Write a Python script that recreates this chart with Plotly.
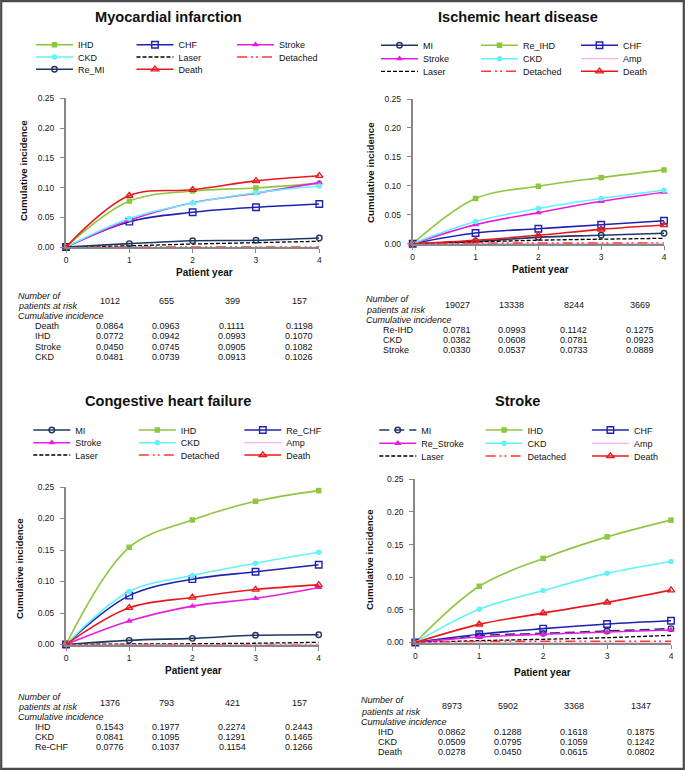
import plotly.graph_objects as go

W, H = 685, 770
FONT = "Liberation Sans, Arial, sans-serif"

years = [0, 1, 2, 3, 4]
year_ticks = ["0", "1", "2", "3", "4"]

# ---------------- Myocardial infarction ----------------
mi_names = ["IHD", "CHF", "Stroke", "CKD", "Laser", "Detached", "Re_MI", "Death"]
mi_IHD = [0, 0.0772, 0.0942, 0.0993, 0.1070]
mi_CHF = [0, 0.0426, 0.0584, 0.0668, 0.0724]
mi_Stroke = [0, 0.0450, 0.0745, 0.0905, 0.1082]
mi_CKD = [0, 0.0481, 0.0739, 0.0913, 0.1026]
mi_Laser = [0, 0.0020, 0.0050, 0.0073, 0.0096]
mi_Detached = [0, 0, 0, 0, 0]
mi_Re_MI = [0, 0.0056, 0.0106, 0.0113, 0.0152]
mi_Death = [0, 0.0864, 0.0963, 0.1111, 0.1198]
mi_at_risk = [1012, 655, 399, 157]
mi_table_labels = ["Death", "IHD", "Stroke", "CKD"]
mi_table_series = ["Death", "IHD", "Stroke", "CKD"]

# ---------------- Ischemic heart disease ----------------
ihd_names = ["MI", "Re_IHD", "CHF", "Stroke", "CKD", "Amp", "Laser", "Detached", "Death"]
ihd_MI = [0, 0.0040, 0.0110, 0.0145, 0.0180]
ihd_Re_IHD = [0, 0.0781, 0.0993, 0.1142, 0.1275]
ihd_CHF = [0, 0.0184, 0.0259, 0.0328, 0.0397]
ihd_Stroke = [0, 0.0330, 0.0537, 0.0733, 0.0889]
ihd_CKD = [0, 0.0382, 0.0608, 0.0781, 0.0923]
ihd_Amp = [0, 0.0002, 0.0003, 0.0004, 0.0005]
ihd_Laser = [0, 0.0030, 0.0060, 0.0078, 0.0093]
ihd_Detached = [0, 0.0008, 0.0010, 0.0010, 0.0012]
ihd_Death = [0, 0.0059, 0.0145, 0.0248, 0.0322]
ihd_at_risk = [19027, 13338, 8244, 3669]
ihd_table_labels = ["Re-IHD", "CKD", "Stroke"]
ihd_table_series = ["Re_IHD", "CKD", "Stroke"]

# ---------------- Congestive heart failure ----------------
chf_names = ["MI", "IHD", "Re_CHF", "Stroke", "CKD", "Amp", "Laser", "Detached", "Death"]
chf_MI = [0, 0.0066, 0.0098, 0.0146, 0.0155]
chf_IHD = [0, 0.1543, 0.1977, 0.2274, 0.2443]
chf_Re_CHF = [0, 0.0776, 0.1037, 0.1154, 0.1266]
chf_Stroke = [0, 0.0372, 0.0609, 0.0731, 0.0905]
chf_CKD = [0, 0.0841, 0.1095, 0.1291, 0.1465]
chf_Amp = [0, 0, 0, 0, 0]
chf_Laser = [0, 0.0008, 0.0012, 0.0020, 0.0035]
chf_Detached = [0, 0, 0, 0, 0]
chf_Death = [0, 0.0582, 0.0747, 0.0873, 0.0946]
chf_at_risk = [1376, 793, 421, 157]
chf_table_labels = ["IHD", "CKD", "Re-CHF"]
chf_table_series = ["IHD", "CKD", "Re_CHF"]

# ---------------- Stroke ----------------
st_names = ["MI", "IHD", "CHF", "Re_Stroke", "CKD", "Amp", "Laser", "Detached", "Death"]
st_MI = [0, 0.0104, 0.0140, 0.0176, 0.0212]
st_IHD = [0, 0.0862, 0.1288, 0.1618, 0.1875]
st_CHF = [0, 0.0126, 0.0212, 0.0284, 0.0334]
st_Re_Stroke = [0, 0.0084, 0.0126, 0.0160, 0.0192]
st_CKD = [0, 0.0509, 0.0795, 0.1059, 0.1242]
st_Amp = [0, 0, 0, 0, 0]
st_Laser = [0, 0.0028, 0.0049, 0.0074, 0.0110]
st_Detached = [0, 0.0015, 0.0018, 0.0018, 0.0018]
st_Death = [0, 0.0278, 0.0450, 0.0615, 0.0802]
st_at_risk = [8973, 5902, 3368, 1347]
st_table_labels = ["IHD", "CKD", "Death"]
st_table_series = ["IHD", "CKD", "Death"]

series_mi = {"IHD": mi_IHD, "CHF": mi_CHF, "Stroke": mi_Stroke, "CKD": mi_CKD,
             "Laser": mi_Laser, "Detached": mi_Detached, "Re_MI": mi_Re_MI, "Death": mi_Death}
series_ihd = {"MI": ihd_MI, "Re_IHD": ihd_Re_IHD, "CHF": ihd_CHF, "Stroke": ihd_Stroke,
              "CKD": ihd_CKD, "Amp": ihd_Amp, "Laser": ihd_Laser, "Detached": ihd_Detached,
              "Death": ihd_Death}
series_chf = {"MI": chf_MI, "IHD": chf_IHD, "Re_CHF": chf_Re_CHF, "Stroke": chf_Stroke,
              "CKD": chf_CKD, "Amp": chf_Amp, "Laser": chf_Laser, "Detached": chf_Detached,
              "Death": chf_Death}
series_st = {"MI": st_MI, "IHD": st_IHD, "CHF": st_CHF, "Re_Stroke": st_Re_Stroke,
             "CKD": st_CKD, "Amp": st_Amp, "Laser": st_Laser, "Detached": st_Detached,
             "Death": st_Death}

# ---------------- styles ----------------
GREEN = "#8DC63F"
BLUE = "#1E22B0"
MAGENTA = "#E81DE0"
CYAN = "#62F2F7"
NAVY = "#1F3864"
RED = "#E8191E"
DRED = "#FF3A2E"
PINK = "#FF9CF5"

STYLE = {
    "IHD": dict(color=GREEN, symbol="square", size=5.5, lw=1.6, dash="solid", mline=0),
    "CHF": dict(color=BLUE, symbol="square-open", size=6.5, lw=1.6, dash="solid", mline=1.4),
    "Stroke": dict(color=MAGENTA, symbol="triangle-up", size=6.5, lw=1.6, dash="solid", mline=0),
    "CKD": dict(color=CYAN, symbol="circle", size=5.5, lw=1.6, dash="solid", mline=0),
    "MI": dict(color=NAVY, symbol="circle-open", size=5.5, lw=1.6, dash="solid", mline=1.4),
    "Death": dict(color=RED, symbol="triangle-up-open", size=6.5, lw=1.6, dash="solid", mline=1.3),
    "Laser": dict(color="#000000", symbol=None, size=0, lw=1.3, dash="4px,2px", mline=0),
    "Detached": dict(color=DRED, symbol=None, size=0, lw=1.6, dash="10px,4px,2px,3px,2px,4px", mline=0),
    "Amp": dict(color=PINK, symbol=None, size=0, lw=1.0, dash="solid", mline=0),
}

panels = [
    dict(title="Myocardial infarction", names=mi_names, series=series_mi,
         at_risk=mi_at_risk, tlabels=mi_table_labels, tseries=mi_table_series,
         title_xy=(168, 16.7), leg_x=31, leg_ew=48.5, leg_rows=[44.7, 57, 69.3],
         x0=66, x4=319.3, y0=247, y25=98.3, ytitle=(23, 171), xtitle=(204.5, 272.7),
         t_left=16, t_label=33.3, t_cols=[110, 166, 232.3, 299.2], t_num=295.7, t_pat=306,
         t_risk=300.7, t_cum=316, t_rows=[326.3, 336.3, 346.7, 356.7], mi_dash=False),
    dict(title="Ischemic heart disease", names=ihd_names, series=series_ihd,
         at_risk=ihd_at_risk, tlabels=ihd_table_labels, tseries=ihd_table_series,
         title_xy=(517.7, 17.3), leg_x=376, leg_ew=48, leg_rows=[45.3, 58.7, 71.3],
         x0=412.7, x4=664, y0=243.7, y25=99, ytitle=(370, 173), xtitle=(540, 269.3),
         t_left=363.7, t_label=381, t_cols=[457.3, 512, 573.5, 639.5], t_num=299.3, t_pat=310,
         t_risk=305.3, t_cum=320.3, t_rows=[330, 340, 350], mi_dash=False),
    dict(title="Congestive heart failure", names=chf_names, series=series_chf,
         at_risk=chf_at_risk, tlabels=chf_table_labels, tseries=chf_table_series,
         title_xy=(168, 401.3), leg_x=28.3, leg_ew=53.5, leg_rows=[430, 442.7, 455],
         x0=66, x4=318.7, y0=644.5, y25=487, ytitle=(19, 569), xtitle=(193.3, 670.3),
         t_left=16, t_label=33.3, t_cols=[110, 166, 232.3, 299.2], t_num=697.3, t_pat=707.3,
         t_risk=702.7, t_cum=717, t_rows=[727, 737.3, 747.3], mi_dash=False),
    dict(title="Stroke", names=st_names, series=series_st,
         at_risk=st_at_risk, tlabels=st_table_labels, tseries=st_table_series,
         title_xy=(517.7, 401.3), leg_x=374.3, leg_ew=54.3, leg_rows=[430, 443.3, 456],
         x0=415.3, x4=671, y0=642.5, y25=479.3, ytitle=(369, 560), xtitle=(542, 672),
         t_left=358.7, t_label=376, t_cols=[452, 508, 574.3, 641.2], t_num=700.3, t_pat=711.7,
         t_risk=706.3, t_cum=721.7, t_rows=[731.7, 741.7, 751.7], mi_dash=True),
]

fig = go.Figure()
layout = dict(width=W, height=H, margin=dict(l=0, r=0, t=0, b=0, autoexpand=False),
              paper_bgcolor="white", plot_bgcolor="white",
              font=dict(family=FONT, color="#111111"), annotations=[], shapes=[])


def px_x(x):
    return x / W


def px_y(y):
    return 1 - y / H


def ann(text, x, y, size=9, xanchor="left", weight="normal", style="normal", angle=0):
    return dict(text=text, x=px_x(x), y=px_y(y), xref="paper", yref="paper",
                xanchor=xanchor, yanchor="middle", showarrow=False, textangle=angle,
                font=dict(family=FONT, size=size, color="#111111", weight=weight, style=style))


legend_count = 0
for pi, p in enumerate(panels):
    n = pi + 1
    xa = "x" if n == 1 else f"x{n}"
    ya = "y" if n == 1 else f"y{n}"
    xkey = "xaxis" if n == 1 else f"xaxis{n}"
    ykey = "yaxis" if n == 1 else f"yaxis{n}"

    # legends: one legend per row of three entries
    row_legends = []
    for r, ry in enumerate(p["leg_rows"]):
        legend_count += 1
        lkey = "legend" if legend_count == 1 else f"legend{legend_count}"
        row_legends.append(lkey)
        layout[lkey] = dict(x=px_x(p["leg_x"]), y=px_y(ry), xanchor="left", yanchor="middle",
                            orientation="h", entrywidth=p["leg_ew"], entrywidthmode="pixels",
                            itemwidth=37, font=dict(size=9, family=FONT, color="#111111"),
                            bgcolor="rgba(0,0,0,0)", borderwidth=0, tracegroupgap=0,
                            itemclick=False, itemdoubleclick=False)

    for i, name in enumerate(p["names"]):
        base = name[3:] if name.startswith("Re_") else name
        s = STYLE[base]
        dash = s["dash"]
        if base == "MI" and p["mi_dash"]:
            dash = "10px,5px"
        vals = p["series"][name]
        has_marker = s["symbol"] is not None
        tr = go.Scatter(
            x=years, y=vals, name=name, xaxis=xa, yaxis=ya,
            mode="lines+markers" if has_marker else "lines",
            line=dict(color=s["color"], width=s["lw"], dash=dash, shape="spline", smoothing=1),
            legend=row_legends[i // 3], cliponaxis=False, showlegend=True,
            hovertemplate=name + ": %{y:.4f}<extra></extra>",
        )
        if has_marker:
            tr.marker = dict(symbol=s["symbol"], size=s["size"], color=s["color"],
                             line=dict(color=s["color"], width=s["mline"]))
        fig.add_trace(tr)

    axis_common = dict(showline=True, linecolor="#878787", linewidth=2, ticks="outside",
                       ticklen=4, tickwidth=1, tickcolor="#878787", showgrid=False,
                       zeroline=False, fixedrange=True, automargin=False,
                       tickfont=dict(size=8.5, family=FONT, color="#1a1a1a"))
    layout[xkey] = dict(domain=[px_x(p["x0"]), px_x(p["x4"])], range=[0, 4], anchor=ya,
                        tickmode="array", tickvals=years, ticktext=year_ticks, **axis_common)
    layout[ykey] = dict(domain=[px_y(p["y0"]), px_y(p["y25"])], range=[0, 0.25], anchor=xa,
                        dtick=0.05, tick0=0, tickformat=".2f", ticklabelstandoff=4, **axis_common)

    A = layout["annotations"]
    A.append(ann(p["title"], p["title_xy"][0], p["title_xy"][1], size=14.6,
                 xanchor="center", weight="bold"))
    A.append(ann("Cumulative incidence", p["ytitle"][0], p["ytitle"][1], size=9.8,
                 xanchor="center", weight="bold", angle=-90))
    A.append(ann("Patient year", p["xtitle"][0], p["xtitle"][1], size=10,
                 xanchor="center", weight="bold"))
    # table
    A.append(ann("Number of", p["t_left"], p["t_num"], size=9, style="italic"))
    A.append(ann("patients at risk", p["t_left"], p["t_pat"], size=9, style="italic"))
    for c, v in enumerate(p["at_risk"]):
        A.append(ann(str(v), p["t_cols"][c], p["t_risk"], size=9, xanchor="center"))
    A.append(ann("Cumulative incidence", p["t_left"], p["t_cum"], size=9, style="italic"))
    for r, (lab, sname) in enumerate(zip(p["tlabels"], p["tseries"])):
        A.append(ann(lab, p["t_label"], p["t_rows"][r], size=9))
        vals = p["series"][sname]
        for c in range(4):
            A.append(ann(f"{vals[c + 1]:.4f}", p["t_cols"][c], p["t_rows"][r], size=9,
                         xanchor="center"))

layout["shapes"].append(dict(type="rect", xref="paper", yref="paper",
                             x0=1.2 / W, x1=1 - 1.2 / W, y0=1.2 / H, y1=1 - 1.2 / H,
                             line=dict(color="#4a4a4a", width=2.2), fillcolor="rgba(0,0,0,0)"))

fig.update_layout(**layout)
fig.write_html("out.html",
               config={"displayModeBar": False},
               post_script="document.body.style.margin='0';document.body.style.padding='0';"
                           "document.documentElement.style.overflow='hidden';")
